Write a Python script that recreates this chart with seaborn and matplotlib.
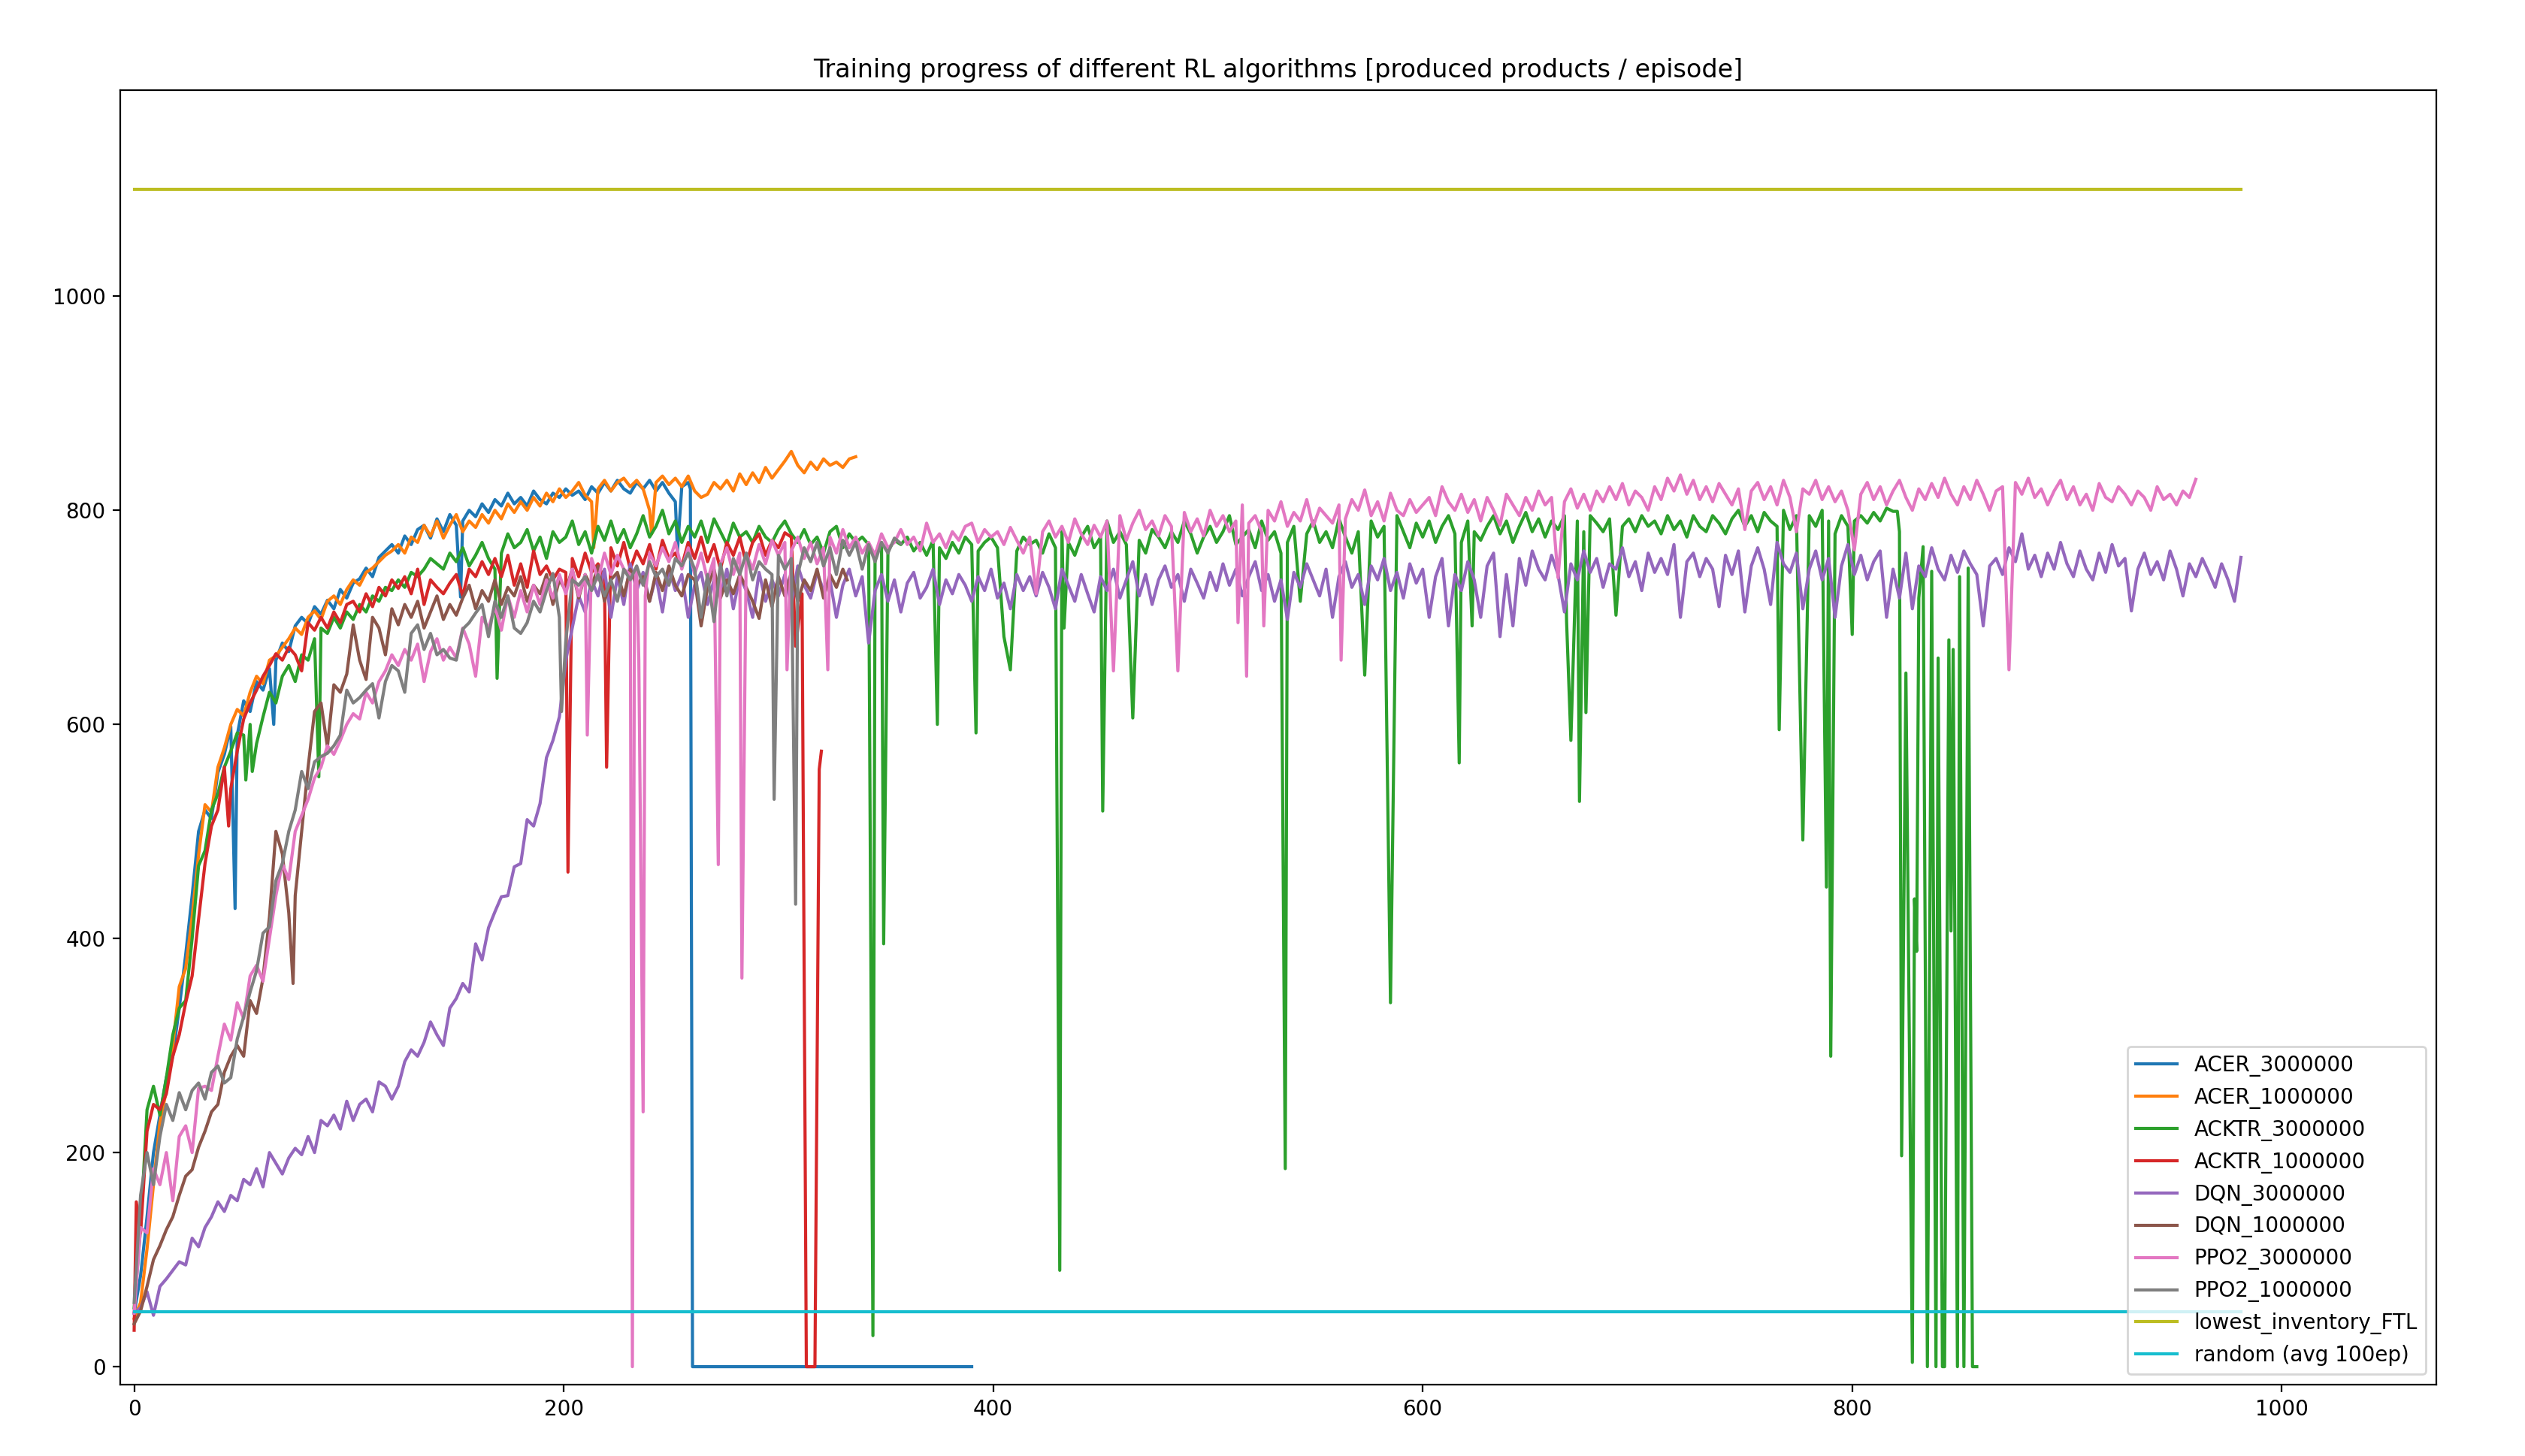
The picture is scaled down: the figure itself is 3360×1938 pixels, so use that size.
import numpy as np
import pandas as pd
import matplotlib
matplotlib.use("Agg")
import matplotlib.pyplot as plt
import seaborn as sns

# episodes are sampled every STEP episodes; single-episode drops are listed separately
STEP = 3

RUN_NAMES = [
    "ACER_3000000", "ACER_1000000", "ACKTR_3000000", "ACKTR_1000000",
    "DQN_3000000", "DQN_1000000", "PPO2_3000000", "PPO2_1000000",
]

acer_3m = [
    50, 85, 140, 200, 235, 270, 290, 335, 385, 440,
    500, 520, 512, 555, 572, 598, 590, 622, 612, 640,
    632, 652, 660, 676, 668, 692, 700, 694, 710, 703,
    716, 708, 726, 718, 732, 736, 746, 738, 756, 762,
    768, 760, 776, 768, 782, 786, 774, 792, 780, 796,
    786, 790, 800, 794, 806, 798, 810, 804, 816, 806,
    812, 804, 818, 810, 806, 816, 812, 820, 814, 818,
    810, 822, 816, 826, 818, 828, 820, 816, 826, 820,
    828, 818, 826, 816, 808, 822, 826,
]
acer_3m_drop_ep = [47, 65, 152, 253, 259, 260, 390]
acer_3m_drop_val = [428, 600, 719, 762, 820, 0, 0]

acer_1m = [
    45, 60, 110, 170, 228, 258, 300, 355, 372, 420,
    478, 525, 518, 560, 578, 600, 614, 608, 630, 645,
    638, 660, 664, 672, 680, 690, 684, 700, 706, 698,
    715, 720, 712, 726, 735, 730, 742, 746, 752, 758,
    762, 768, 760, 775, 770, 786, 776, 790, 774, 786,
    796, 780, 790, 784, 796, 788, 800, 792, 806, 798,
    808, 800, 812, 804, 816, 808, 820, 812, 818, 826,
    814, 808, 820, 828, 818, 826, 830, 822, 828, 820,
    800, 826, 832, 824, 830, 822, 832, 818, 812, 815,
    826, 820, 828, 818, 834, 824, 835, 826, 840, 830,
    838, 846, 855, 842, 835, 845, 838, 848, 842, 845,
    840, 848, 850,
]
acer_1m_drop_ep = [214, 241]
acer_1m_drop_val = [765, 778]

acktr_3m = [
    55, 130, 240, 262, 235, 270, 310, 335, 342, 400,
    468, 482, 520, 535, 560, 575, 592, 590, 600, 582,
    607, 630, 620, 645, 655, 640, 665, 660, 680, 690,
    685, 700, 690, 705, 698, 712, 705, 720, 715, 728,
    725, 735, 728, 742, 738, 745, 755, 750, 745, 760,
    752, 765, 748, 758, 770, 755, 745, 760, 778, 765,
    770, 782, 762, 775, 755, 780, 770, 775, 790, 768,
    780, 760, 785, 772, 790, 770, 782, 765, 778, 795,
    775, 785, 800, 778, 790, 770, 785, 775, 790, 770,
    792, 780, 768, 788, 775, 780, 770, 785, 775, 770,
    782, 790, 778, 770, 782, 768, 775, 760, 780, 785,
    765, 778, 770, 775, 768, 760, 770, 762, 772, 768,
    775, 762, 770, 758, 772, 765, 755, 770, 760, 775,
    768, 762, 770, 775, 765, 755, 770, 762, 775, 768,
    772, 760, 778, 765, 780, 770, 758, 775, 785, 765,
    775, 790, 770, 780, 768, 790, 772, 760, 782, 775,
    765, 780, 770, 790, 778, 760, 775, 785, 770, 780,
    795, 768, 775, 782, 765, 790, 772, 780, 760, 770,
    785, 715, 778, 790, 770, 780, 765, 792, 775, 760,
    780, 770, 790, 775, 785, 770, 795, 780, 765, 788,
    775, 790, 770, 785, 795, 778, 770, 790, 780, 772,
    785, 795, 778, 790, 770, 785, 798, 780, 792, 775,
    790, 782, 795, 785, 790, 780, 795, 788, 780, 792,
    702, 785, 792, 780, 795, 785, 790, 778, 795, 782,
    790, 775, 795, 785, 780, 795, 788, 778, 792, 800,
    785, 795, 780, 798, 790, 785, 800, 782, 795, 788,
    795, 785, 800, 790, 778, 795, 785, 790, 795, 788,
    798, 790, 802,
]
acktr_3m_drop_ep = [
    52, 55, 86, 169, 344, 349, 374, 392, 405, 408,
    431, 433, 451, 465, 536, 573, 585, 617, 623, 667,
    669, 673, 676, 766, 777, 788, 790, 800, 819, 821,
    822, 823, 825, 828, 829, 830, 831, 833, 835, 837,
    839, 840, 842, 843, 845, 846, 847, 849, 850, 852,
    854, 856, 858,
]
acktr_3m_drop_val = [
    548, 556, 551, 643, 29, 395, 600, 592, 682, 651,
    90, 690, 519, 606, 185, 646, 340, 564, 692, 696,
    585, 528, 611, 595, 492, 448, 290, 684, 799, 799,
    780, 197, 648, 4, 437, 388, 718, 766, 0, 743,
    0, 662, 0, 0, 679, 407, 670, 0, 738, 0,
    746, 0, 0,
]

acktr_1m = [
    34, 125, 220, 245, 240, 255, 290, 310, 340, 365,
    418, 470, 505, 520, 560, 540, 575, 605, 620, 632,
    645, 655, 666, 660, 672, 665, 650, 695, 688, 700,
    690, 705, 695, 712, 715, 705, 722, 710, 728, 720,
    735, 727, 738, 722, 745, 712, 735, 728, 722, 732,
    740, 720, 745, 738, 752, 740, 755, 738, 758, 730,
    750, 728, 762, 740, 748, 735, 745, 742, 755, 738,
    760, 742, 750, 735, 765, 748, 770, 745, 762, 750,
    768, 745, 772, 755, 760, 748, 770, 755, 775, 752,
    768, 745, 770, 758, 775, 750, 770, 778, 758, 772,
    765, 779, 775,
]
acktr_1m_drop_ep = [1, 44, 202, 220, 308, 311, 313, 317, 319, 320]
acktr_1m_drop_val = [154, 505, 462, 560, 673, 722, 0, 0, 558, 575]

dqn_3m = [
    50, 55, 70, 48, 75, 82, 90, 98, 95, 120,
    112, 130, 140, 154, 145, 160, 155, 175, 170, 185,
    168, 200, 190, 180, 195, 204, 198, 215, 200, 230,
    225, 235, 222, 248, 230, 245, 250, 238, 266, 262,
    250, 262, 285, 296, 290, 303, 322, 310, 300, 335,
    344, 358, 350, 395, 380, 410, 425, 439, 440, 467,
    470, 511, 505, 526, 569, 585, 607, 660, 690, 720,
    705, 735, 720, 745, 700, 738, 712, 750, 725, 742,
    715, 738, 705, 745, 725, 740, 700, 730, 742, 712,
    735, 720, 745, 708, 738, 725, 700, 742, 715, 735,
    720, 740, 712, 748, 730, 718, 742, 725, 735, 700,
    730, 745, 720, 738, 676, 725, 740, 715, 735, 705,
    732, 742, 718, 728, 745, 712, 735, 722, 740, 730,
    715, 738, 725, 745, 718, 732, 708, 740, 725, 738,
    720, 742, 728, 708, 745, 730, 715, 740, 722, 705,
    738, 725, 745, 718, 735, 752, 720, 740, 712, 735,
    748, 728, 740, 715, 745, 732, 718, 742, 725, 750,
    730, 745, 720, 738, 752, 725, 740, 715, 735, 698,
    742, 728, 750, 735, 720, 745, 700, 738, 752, 728,
    740, 712, 748, 735, 755, 725, 742, 718, 750, 732,
    745, 700, 738, 755, 692, 740, 725, 752, 735, 700,
    748, 760, 682, 740, 692, 755, 730, 762, 745, 735,
    758, 740, 705, 750, 735, 762, 742, 755, 728, 750,
    745, 765, 738, 752, 725, 760, 742, 755, 740, 768,
    700, 752, 760, 738, 755, 745, 710, 758, 740, 762,
    705, 748, 765, 745, 712, 770, 750, 742, 760, 708,
    745, 762, 735, 755, 700, 748, 768, 740, 758, 735,
    752, 762, 700, 745, 718, 760, 708, 748, 738, 765,
    745, 735, 758, 742, 762, 750, 740, 692, 748, 755,
    740, 765, 752, 778, 745, 758, 738, 760, 745, 770,
    750, 738, 762, 745, 735, 760, 742, 768, 748, 755,
    706, 745, 760, 740, 752, 735, 762, 745, 720, 750,
    738, 755, 742, 728, 750, 735, 715, 756,
]

dqn_1m = [
    40, 52, 75, 100, 113, 128, 140, 160, 178, 184,
    205, 220, 238, 245, 275, 290, 300, 290, 342, 330,
    363, 420, 500, 479, 424, 440, 500, 560, 612, 620,
    579, 637, 630, 647, 693, 660, 642, 700, 690, 665,
    708, 693, 712, 700, 715, 690, 705, 720, 698, 712,
    702, 718, 730, 708, 725, 715, 735, 712, 728, 720,
    738, 715, 730, 722, 740, 712, 735, 725, 745, 718,
    740, 728, 748, 715, 735, 742, 720, 745, 730, 738,
    715, 742, 725, 748, 730, 720, 740, 735, 692, 728,
    745, 718, 735, 722, 740, 728, 715, 699, 735, 710,
    738, 720, 742, 715, 735, 725, 745, 718, 740, 728,
    745,
]
dqn_1m_drop_ep = [74, 332]
dqn_1m_drop_val = [358, 735]

ppo2_3m = [
    50, 130, 125, 185, 170, 200, 155, 215, 225, 200,
    260, 262, 258, 290, 320, 305, 340, 325, 365, 375,
    360, 400, 440, 470, 455, 500, 515, 530, 550, 560,
    580, 572, 585, 600, 610, 605, 630, 620, 640, 650,
    665, 655, 670, 660, 675, 640, 668, 680, 660, 672,
    662, 690, 675, 645, 700, 690, 710, 688, 720, 700,
    725, 705, 730, 712, 735, 718, 740, 722, 745, 720,
    740, 755, 735, 760, 740, 758, 745, 740, 745, 238,
    760, 748, 765, 752, 770, 745, 765, 740, 760, 735,
    755, 750, 765, 740, 760, 760, 745, 768, 750, 772,
    758, 770, 762, 775, 755, 770, 750, 765, 775, 760,
    782, 765, 775, 760, 770, 758, 778, 765, 770, 782,
    768, 775, 762, 788, 770, 778, 765, 780, 772, 785,
    788, 770, 782, 775, 780, 768, 784, 772, 760, 775,
    722, 780, 790, 775, 785, 770, 792, 778, 768, 786,
    775, 790, 780, 795, 772, 788, 800, 782, 790, 776,
    795, 785, 770, 798, 780, 792, 776, 800, 785, 795,
    780, 790, 805, 788, 795, 780, 800, 790, 808, 785,
    798, 790, 810, 785, 802, 795, 788, 805, 792, 810,
    800, 819, 795, 808, 790, 816, 800, 795, 810, 798,
    805, 812, 795, 822, 808, 800, 815, 798, 810, 790,
    812, 800, 786, 815, 805, 795, 812, 800, 818, 805,
    812, 737, 808, 820, 802, 815, 800, 818, 808, 822,
    810, 825, 805, 818, 812, 800, 822, 810, 830, 818,
    833, 815, 828, 810, 822, 808, 825, 815, 805, 820,
    782, 818, 826, 810, 822, 805, 828, 812, 780, 820,
    815, 828, 810, 822, 808, 818, 800, 763, 815, 826,
    810, 822, 805, 818, 828, 812, 800, 820, 810, 825,
    812, 830, 815, 805, 822, 810, 828, 815, 800, 818,
    822, 651, 826, 815, 830, 812, 820, 805, 818, 828,
    810, 822, 805, 815, 800, 825, 812, 808, 822, 815,
    805, 818, 812, 800, 822, 810, 815, 805, 818, 812,
    829,
]
ppo2_3m_drop_ep = [211, 232, 233, 235, 238, 272, 283, 304, 323, 456, 486, 514, 518, 526, 562]
ppo2_3m_drop_val = [590, 0, 730, 660, 720, 469, 363, 651, 651, 650, 650, 695, 645, 692, 660]

ppo2_1m = [
    60, 160, 200, 170, 215, 245, 230, 256, 240, 258,
    265, 250, 275, 281, 265, 270, 306, 327, 350, 370,
    405, 411, 454, 470, 500, 520, 556, 540, 565, 570,
    573, 580, 590, 632, 620, 625, 632, 638, 606, 640,
    655, 650, 630, 685, 693, 670, 685, 665, 670, 662,
    660, 689, 695, 704, 712, 682, 715, 700, 720, 690,
    685, 695, 715, 705, 725, 741, 700, 678, 735, 730,
    738, 725, 740, 720, 735, 715, 745, 735, 748, 730,
    752, 738, 745, 730, 755, 748, 760, 745, 700, 740,
    696, 750, 720, 755, 740, 760, 735, 752, 745, 740,
    758, 745, 755, 740, 765, 752, 770, 748, 765, 740,
    772, 758, 770, 745, 768, 752, 770, 760, 774, 769,
]
ppo2_1m_drop_ep = [199, 298, 308]
ppo2_1m_drop_val = [612, 530, 432]

# reference lines
baseline_names = ["lowest_inventory_FTL", "random (avg 100ep)"]
baseline_values = [1100, 51]
baseline_span = [0, 981]


def make_run(name, base, drop_ep=(), drop_val=()):
    base_df = pd.DataFrame({"episode": np.arange(len(base)) * STEP, "value": base})
    drop_df = pd.DataFrame({"episode": list(drop_ep), "value": list(drop_val)})
    df = pd.concat([base_df, drop_df], ignore_index=True)
    df = df.drop_duplicates("episode", keep="last").sort_values("episode")
    df["run"] = name
    return df


runs = [
    make_run(RUN_NAMES[0], acer_3m, acer_3m_drop_ep, acer_3m_drop_val),
    make_run(RUN_NAMES[1], acer_1m, acer_1m_drop_ep, acer_1m_drop_val),
    make_run(RUN_NAMES[2], acktr_3m, acktr_3m_drop_ep, acktr_3m_drop_val),
    make_run(RUN_NAMES[3], acktr_1m, acktr_1m_drop_ep, acktr_1m_drop_val),
    make_run(RUN_NAMES[4], dqn_3m),
    make_run(RUN_NAMES[5], dqn_1m, dqn_1m_drop_ep, dqn_1m_drop_val),
    make_run(RUN_NAMES[6], ppo2_3m, ppo2_3m_drop_ep, ppo2_3m_drop_val),
    make_run(RUN_NAMES[7], ppo2_1m, ppo2_1m_drop_ep, ppo2_1m_drop_val),
]
for name, val in zip(baseline_names, baseline_values):
    runs.append(pd.DataFrame({"episode": baseline_span, "value": [val, val], "run": name}))

colors = sns.color_palette("tab10", 10)

fig = plt.figure(figsize=(16.8, 9.69), dpi=200)
ax = fig.add_axes([0.0476, 0.049, 0.9173, 0.8891])

for df, c in zip(runs, colors):
    sns.lineplot(data=df, x="episode", y="value", color=c, label=df["run"].iloc[0],
                 estimator=None, sort=False, linewidth=1.5, ax=ax, legend=False)

ax.set_xlim(-6.5, 1072)
ax.set_ylim(-16.8, 1192.5)
ax.set_xticks([0, 200, 400, 600, 800, 1000])
ax.set_yticks([0, 200, 400, 600, 800, 1000])
ax.set_xlabel("")
ax.set_ylabel("")
ax.tick_params(labelsize=10)
ax.set_title("Training progress of different RL algorithms [produced products / episode]", fontsize=12)
ax.legend(loc="lower right", fontsize=10)

fig.savefig("out.png", dpi=200)
